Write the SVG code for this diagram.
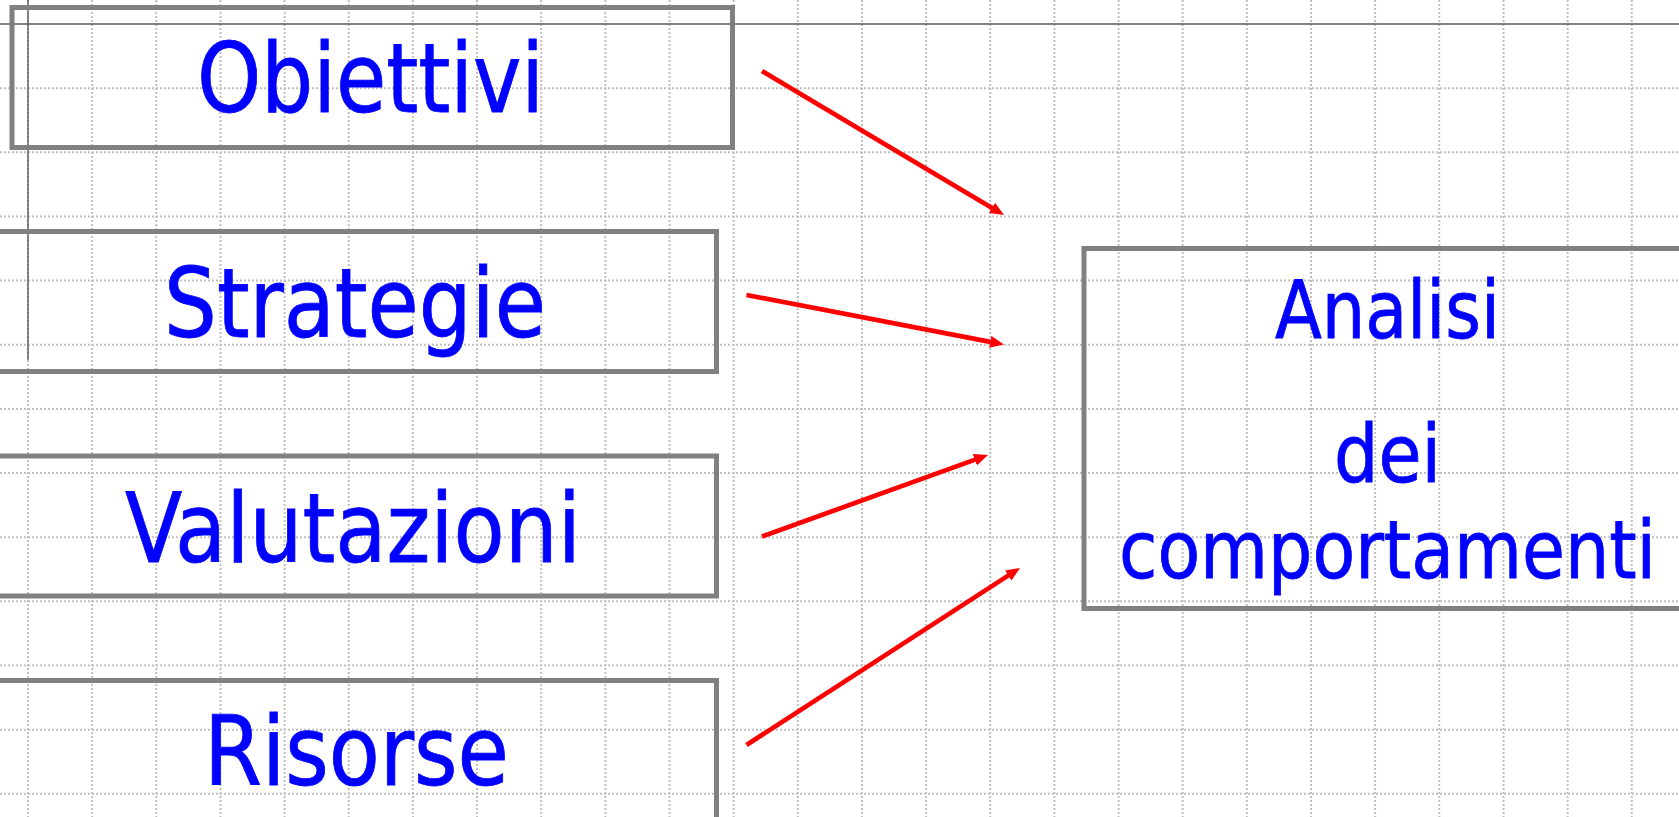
<svg xmlns="http://www.w3.org/2000/svg" width="1679" height="817" viewBox="0 0 1679 817">
<style>
.grid{fill:none;stroke:#c0c0c0;stroke-width:2;stroke-dasharray:2 2}
.guide{fill:none;stroke:#5a5a5a;stroke-width:1.4}
.box{fill:none;stroke:#808080;stroke-width:5}
.lbl{font-family:"DejaVu Sans Condensed","DejaVu Sans","Liberation Sans",sans-serif;font-stretch:condensed;fill:#0000ff;stroke:#0000ff;stroke-width:0.8}
.big{font-size:97px}
.med{font-size:81px}
.arr{fill:none;stroke:#ff0000;stroke-width:4.7}
</style>
<defs>
<marker id="ah" markerUnits="userSpaceOnUse" markerWidth="15" markerHeight="13" refX="4" refY="6" orient="auto" viewBox="0 0 15 13">
<path d="M0,0 L14,6 L0,12 z" fill="#ff0000"/>
</marker>
</defs>
<rect x="0" y="0" width="1679" height="817" fill="#ffffff"/>
<g id="grid">
<path class="grid" d="M28,0V817M92.15,0V817M156.3,0V817M220.45,0V817M284.6,0V817M348.75,0V817M412.9,0V817M477.05,0V817M541.2,0V817M605.35,0V817M669.5,0V817M733.65,0V817M797.8,0V817M861.95,0V817M926.1,0V817M990.25,0V817M1054.4,0V817M1118.55,0V817M1182.7,0V817M1246.85,0V817M1311,0V817M1375.15,0V817M1439.3,0V817M1503.45,0V817M1567.6,0V817M1631.75,0V817"/>
<path class="grid" d="M0,88.15H1679M0,152.3H1679M0,216.45H1679M0,280.6H1679M0,344.75H1679M0,408.9H1679M0,473.05H1679M0,537.2H1679M0,601.35H1679M0,665.5H1679M0,729.65H1679M0,793.8H1679"/>
<path class="guide" d="M0,24H1679M28,0V360"/>
</g>
<g id="obiettivi">
<rect class="box" x="12" y="7.5" width="720.5" height="140"/>
<text class="lbl big" x="197" y="112" textLength="347" lengthAdjust="spacingAndGlyphs">Obiettivi</text>
</g>
<g id="strategie">
<rect class="box" x="-10" y="231.5" width="726.5" height="140"/>
<text class="lbl big" x="164" y="336.7" textLength="382" lengthAdjust="spacingAndGlyphs">Strategie</text>
</g>
<g id="valutazioni">
<rect class="box" x="-10" y="456" width="726.5" height="140"/>
<text class="lbl big" x="125" y="561.7" textLength="456" lengthAdjust="spacingAndGlyphs">Valutazioni</text>
</g>
<g id="risorse">
<rect class="box" x="-10" y="680.5" width="726.5" height="160"/>
<text class="lbl big" x="204" y="785" textLength="305" lengthAdjust="spacingAndGlyphs">Risorse</text>
</g>
<g id="analisi">
<rect class="box" x="1084" y="248.5" width="700" height="360"/>
<text class="lbl med" x="1275" y="338.3" textLength="225" lengthAdjust="spacingAndGlyphs">Analisi</text>
<text class="lbl med" x="1334" y="481.7" textLength="107" lengthAdjust="spacingAndGlyphs">dei</text>
<text class="lbl med" x="1119" y="578.3" textLength="537" lengthAdjust="spacingAndGlyphs">comportamenti</text>
</g>
<g id="connectors">
<line class="arr" x1="762" y1="71" x2="995.4" y2="209.9" marker-end="url(#ah)"/>
<line class="arr" x1="746.5" y1="295" x2="994.2" y2="342.6" marker-end="url(#ah)"/>
<line class="arr" x1="762" y1="536.5" x2="978.6" y2="458.4" marker-end="url(#ah)"/>
<line class="arr" x1="746.5" y1="745" x2="1011.6" y2="573.4" marker-end="url(#ah)"/>
</g>
</svg>
